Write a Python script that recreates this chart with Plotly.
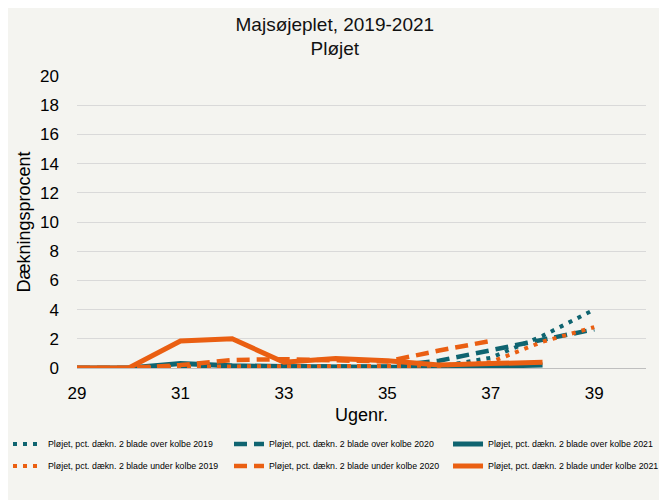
import plotly.graph_objects as go

# Ugenumre og dækningsprocent
weeks = [29, 30, 31, 32, 33, 34, 35, 36, 37, 38, 39]

over_2019 = [0, 0, 0.05, 0.05, 0.05, 0.05, 0.05, 0.1, 0.7, 2.2, 4.0]
over_2020 = [0, 0, 0.1, 0.1, 0.1, 0.1, 0.1, 0.5, 1.2, 1.9, 2.65]
over_2021 = [0, 0, 0.3, 0.15, 0.1, 0.05, 0.05, 0.05, 0.1, 0.2, None]
under_2019 = [0, 0, 0.1, 0.1, 0.1, 0.15, 0.15, 0.15, 0.4, 1.8, 2.8]
under_2020 = [0, 0, 0.2, 0.55, 0.6, 0.5, 0.45, 1.2, 1.85, None, None]
under_2021 = [0, 0, 1.85, 2.0, 0.4, 0.65, 0.5, 0.2, 0.3, 0.4, None]

TEAL = "#0f6470"
ORANGE = "#ea5f12"
FONT = "Liberation Sans, Arial, sans-serif"

# (navn, værdier, farve, streg, bredde, kolonne, række)
series = [
    ("Pløjet, pct. dækn. 2 blade over kolbe 2019", over_2019, TEAL, "4px,6px", 4, 0, 0),
    ("Pløjet, pct. dækn. 2 blade over kolbe 2020", over_2020, TEAL, "13px,7px", 4.5, 1, 0),
    ("Pløjet, pct. dækn. 2 blade over kolbe 2021", over_2021, TEAL, "solid", 5, 2, 0),
    ("Pløjet, pct. dækn. 2 blade under kolbe 2019", under_2019, ORANGE, "4px,6px", 4, 0, 1),
    ("Pløjet, pct. dækn. 2 blade under kolbe 2020", under_2020, ORANGE, "13px,7px", 4.5, 1, 1),
    ("Pløjet, pct. dækn. 2 blade under kolbe 2021", under_2021, ORANGE, "solid", 5, 2, 1),
]

col_x = [0.0, 0.3313, 0.6597]
row_y = [0.128, 0.084]

fig = go.Figure()
legends = {}
for i, (name, vals, color, dash, width, col, row) in enumerate(series):
    key = "legend" if i == 0 else f"legend{i + 1}"
    fig.add_trace(go.Scatter(
        x=weeks, y=vals, name=name, mode="lines",
        line=dict(color=color, dash=dash, width=width),
        connectgaps=False, legend=key, showlegend=True,
    ))
    # hver forklaring får sin egen legend, så placeringen kan styres præcist
    legends[key] = dict(
        orientation="h", xanchor="left", yanchor="middle",
        xref="container", yref="container",
        x=col_x[col], y=row_y[row],
        font=dict(family=FONT, size=8.8, color="#000000"),
        bgcolor="rgba(0,0,0,0)", itemwidth=30,
    )

fig.update_layout(
    width=667, height=500, showlegend=True,
    margin=dict(l=69, r=29, t=68, b=140, autoexpand=False),
    paper_bgcolor="#f4f4f0", plot_bgcolor="#f4f4f0",
    font=dict(family=FONT, color="#000000"),
    title=dict(
        text="Majsøjeplet, 2019-2021<br>Pløjet",
        x=0.49, xanchor="center", y=0.955, yanchor="middle",
        font=dict(size=19, color="#111111"),
    ),
    xaxis=dict(
        range=[29, 40], tick0=29, dtick=2,
        showgrid=False, zeroline=False,
        showline=True, linecolor="#bfbfbf", linewidth=1,
        ticks="", ticklabelstandoff=10,
        tickfont=dict(size=17),
        title=dict(text="Ugenr.", font=dict(size=18), standoff=5),
    ),
    yaxis=dict(
        range=[0, 20], dtick=2,
        showgrid=True, gridcolor="#d9d9d9", gridwidth=1,
        zeroline=False, showline=False,
        ticks="", ticklabelstandoff=17,
        tickfont=dict(size=17),
        title=dict(text="Dækningsprocent", font=dict(size=18), standoff=4),
    ),
    **legends,
)

fig.write_html("out.html")
